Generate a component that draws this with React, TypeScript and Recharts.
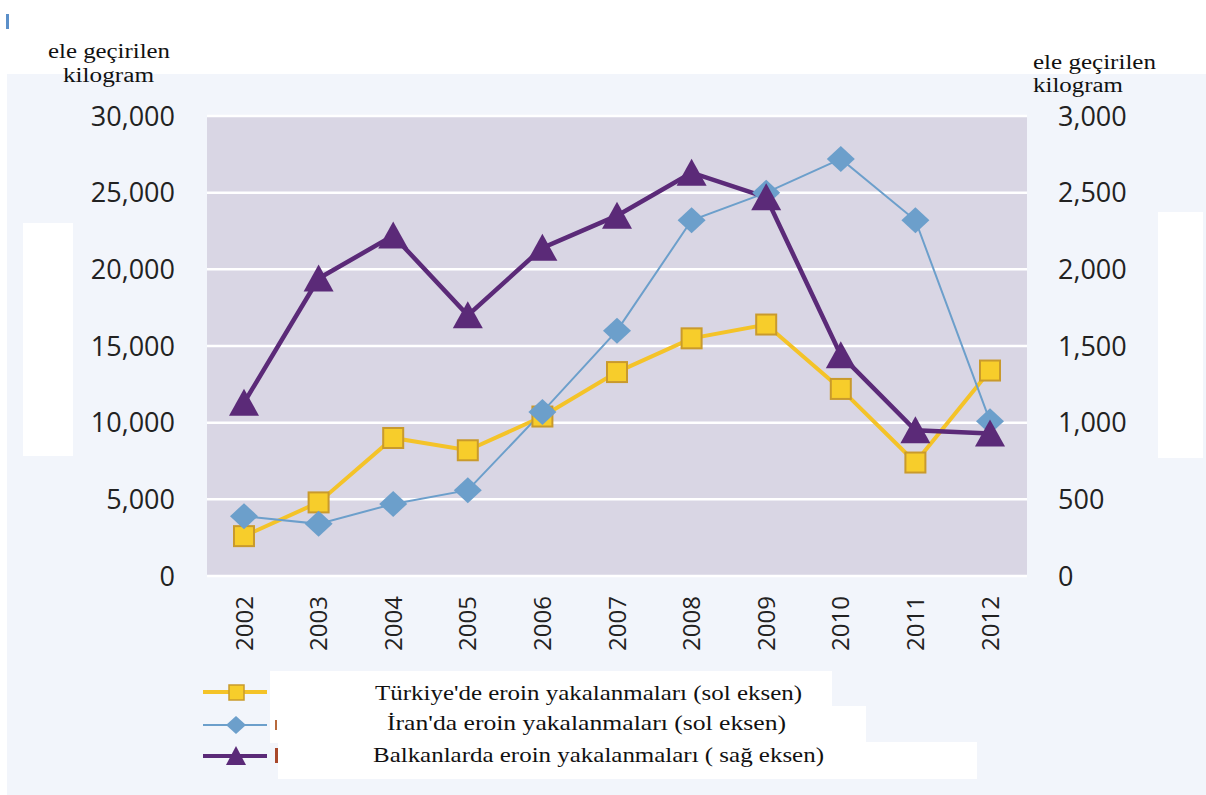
import React from "react";
import { LineChart, Line, XAxis, YAxis, CartesianGrid } from "recharts";

// values
const years = ["2002", "2003", "2004", "2005", "2006", "2007", "2008", "2009", "2010", "2011", "2012"];
const turkiye = [2600, 4800, 9000, 8200, 10400, 13300, 15500, 16400, 12200, 7400, 13400];
const iran = [3900, 3400, 4700, 5600, 10700, 16000, 23200, 25000, 27200, 23200, 10100];
const balkan = [1130, 1940, 2220, 1700, 2140, 2350, 2630, 2470, 1440, 950, 930];

const leftTicks = [0, 5000, 10000, 15000, 20000, 25000, 30000];
const rightTicks = [0, 500, 1000, 1500, 2000, 2500, 3000];

const legendLabels = [
  "Türkiye'de eroin yakalanmaları (sol eksen)",
  "İran'da eroin yakalanmaları (sol eksen)",
  "Balkanlarda eroin yakalanmaları ( sağ eksen)",
];

const data = years.map((year, i) => ({
  year,
  turkiye: turkiye[i],
  iran: iran[i],
  balkan: balkan[i],
}));

const YELLOW = "#f4c328";
const YELLOW_FILL = "#f7cd2b";
const YELLOW_EDGE = "#c99a2c";
const BLUE = "#6c9fcb";
const PURPLE = "#5b2a78";

const fmt = (v: number) => v.toLocaleString("en-US");

const SquareDot = (props: any) => {
  const { cx, cy, index } = props;
  if (cx == null || cy == null) return null;
  return (
    <rect key={"sq" + index} x={cx - 10} y={cy - 10} width={20} height={20}
      fill={YELLOW_FILL} stroke={YELLOW_EDGE} strokeWidth={2} />
  );
};

const DiamondDot = (props: any) => {
  const { cx, cy, index } = props;
  if (cx == null || cy == null) return null;
  return (
    <polygon key={"di" + index}
      points={`${cx},${cy - 13} ${cx + 14},${cy} ${cx},${cy + 13} ${cx - 14},${cy}`}
      fill={BLUE} />
  );
};

const TriangleDot = (props: any) => {
  const { cx, cy, index } = props;
  if (cx == null || cy == null) return null;
  return (
    <polygon key={"tr" + index}
      points={`${cx},${cy - 14} ${cx + 15},${cy + 13} ${cx - 15},${cy + 13}`}
      fill={PURPLE} />
  );
};

const YearTick = (props: any) => {
  const { x, y, payload } = props;
  const ty = y + 20;
  return (
    <text x={x} y={ty} transform={`rotate(-90 ${x} ${ty})`} textAnchor="end" dy="0.36em"
      fontFamily="Open Sans" fontSize={24} fill="#222">
      {payload.value}
    </text>
  );
};

const tickStyle = { fontFamily: "Open Sans", fontSize: 27, fill: "#222" };
const serif = "Liberation Serif, Times New Roman, serif";

export default function App() {
  return (
    <div style={{ position: "absolute", left: 0, top: 0, width: 1206, height: 795, background: "#fff", overflow: "hidden" }}>
      <div style={{ position: "absolute", left: 7, top: 74, width: 1199, height: 721, background: "#f2f5fb" }} />
      <div style={{ position: "absolute", left: 6, top: 14, width: 3, height: 15, background: "#5b8fc9" }} />

      <div style={{ position: "absolute", left: 0, top: 0 }}>
        <LineChart width={1206} height={795} data={data}
          margin={{ top: 116, right: 0, bottom: 139, left: 0 }}>
          <CartesianGrid yAxisId="left" vertical={false} fill="#d9d6e4" stroke="#ffffff" strokeWidth={2.5} />
          <XAxis dataKey="year" height={80} axisLine={false} tickLine={false}
            padding={{ left: 37, right: 37 }}
            tickSize={0} tickMargin={0} interval={0} tick={YearTick} />
          <YAxis yAxisId="left" width={207} domain={[0, 30000]} ticks={leftTicks}
            tickFormatter={fmt} axisLine={false} tickLine={false} tickSize={0} tickMargin={32}
            tick={tickStyle} />
          <YAxis yAxisId="right" orientation="right" width={179} domain={[0, 3000]} ticks={rightTicks}
            tickFormatter={fmt} axisLine={false} tickLine={false} tickSize={0} tickMargin={31}
            tick={{ ...tickStyle, textAnchor: "start" }} />
          <Line yAxisId="left" dataKey="turkiye" stroke={YELLOW} strokeWidth={4}
            dot={SquareDot} activeDot={false} isAnimationActive={false} type="linear" />
          <Line yAxisId="left" dataKey="iran" stroke={BLUE} strokeWidth={2}
            dot={DiamondDot} activeDot={false} isAnimationActive={false} type="linear" />
          <Line yAxisId="right" dataKey="balkan" stroke={PURPLE} strokeWidth={4.5}
            dot={TriangleDot} activeDot={false} isAnimationActive={false} type="linear" />
        </LineChart>
      </div>

      {/* white patches from the source picture */}
      <div style={{ position: "absolute", left: 23, top: 223, width: 50, height: 233, background: "#fff" }} />
      <div style={{ position: "absolute", left: 1158, top: 212, width: 45, height: 246, background: "#fff" }} />
      <div style={{ position: "absolute", left: 270, top: 671, width: 562, height: 36, background: "#fff" }} />
      <div style={{ position: "absolute", left: 270, top: 706, width: 596, height: 37, background: "#fff" }} />
      <div style={{ position: "absolute", left: 278, top: 742, width: 699, height: 37, background: "#fff" }} />

      <svg width={1206} height={795} style={{ position: "absolute", left: 0, top: 0 }}>
        {/* axis titles */}
        <g fontFamily={serif} fontSize={20} fill="#111">
          <text x={48} y={58} textLength={122} lengthAdjust="spacingAndGlyphs">ele geçirilen</text>
          <text x={63} y={82} textLength={91} lengthAdjust="spacingAndGlyphs">kilogram</text>
          <text x={1033} y={69} textLength={123} lengthAdjust="spacingAndGlyphs">ele geçirilen</text>
          <text x={1033} y={92} textLength={90} lengthAdjust="spacingAndGlyphs">kilogram</text>
        </g>

        {/* legend */}
        <line x1={203} x2={267} y1={692} y2={692} stroke={YELLOW} strokeWidth={4} />
        <rect x={229} y={685} width={15} height={15} fill={YELLOW_FILL} stroke={YELLOW_EDGE} strokeWidth={1.5} />
        <line x1={203} x2={267} y1={725} y2={725} stroke={BLUE} strokeWidth={2} />
        <polygon points="236,716 246,725 236,734 226,725" fill={BLUE} />
        <line x1={203} x2={267} y1={756} y2={756} stroke={PURPLE} strokeWidth={4} />
        <polygon points="236,746 246,765 226,765" fill={PURPLE} />
        <rect x={275} y={720} width={2} height={10} fill="#b86a3c" />
        <rect x={275} y={748} width={3} height={15} fill="#a8482a" />

        <g fontFamily={serif} fontSize={21} fill="#111">
          <text x={375} y={700} textLength={427} lengthAdjust="spacingAndGlyphs">{legendLabels[0]}</text>
          <text x={387} y={730} textLength={399} lengthAdjust="spacingAndGlyphs">{legendLabels[1]}</text>
          <text x={373} y={762} textLength={451} lengthAdjust="spacingAndGlyphs">{legendLabels[2]}</text>
        </g>
      </svg>
    </div>
  );
}
